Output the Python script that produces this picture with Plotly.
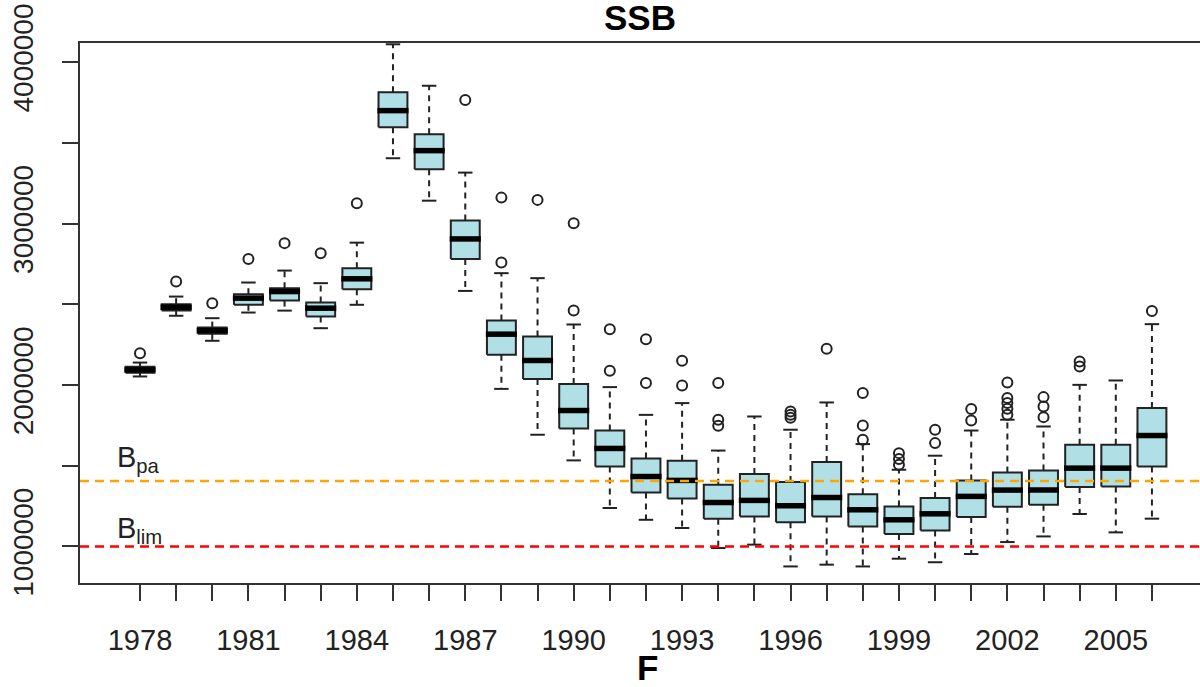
import plotly.graph_objects as go

# Spawning-stock biomass distributions per assessment year
years = list(range(1978, 2007))
label_years = [1978, 1981, 1984, 1987, 1990, 1993, 1996, 1999, 2002, 2005]

median = [2094000, 2482000, 2337000, 2538000, 2579000, 2476000, 2658000, 3700000,
          3452000, 2905000, 2315000, 2152000, 1842000, 1607000, 1433000, 1409000,
          1272000, 1285000, 1252000, 1303000, 1227000, 1165000, 1202000, 1310000,
          1349000, 1349000, 1485000, 1485000, 1687000]
q1 = [2076000, 2461000, 2317000, 2497000, 2523000, 2424000, 2594000, 3597000,
      3337000, 2780000, 2187000, 2038000, 1731000, 1495000, 1334000, 1297000,
      1172000, 1186000, 1149000, 1186000, 1124000, 1077000, 1099000, 1182000,
      1246000, 1258000, 1368000, 1372000, 1495000]
q3 = [2113000, 2501000, 2356000, 2563000, 2600000, 2511000, 2724000, 3814000,
      3554000, 3019000, 2399000, 2300000, 2006000, 1718000, 1545000, 1531000,
      1382000, 1448000, 1399000, 1523000, 1324000, 1248000, 1300000, 1409000,
      1458000, 1471000, 1630000, 1630000, 1857000]
whisker_low = [2053000, 2429000, 2274000, 2449000, 2461000, 2352000, 2497000, 3405000,
               3142000, 2583000, 1976000, 1692000, 1533000, 1238000, 1165000, 1114000,
               990000, 1011000, 876000, 887000, 876000, 924000, 902000, 953000,
               1027000, 1062000, 1201000, 1087000, 1172000]
whisker_high = [2139000, 2548000, 2414000, 2635000, 2709000, 2631000, 2882000, 4111000,
                3854000, 3316000, 2693000, 2662000, 2375000, 1987000, 1815000, 1888000,
                1594000, 1805000, 1723000, 1892000, 1634000, 1475000, 1562000, 1718000,
                1785000, 1743000, 2001000, 2028000, 2377000]

outlier_years = [1978, 1979, 1980, 1981, 1982, 1983, 1984, 1987,
                 1988, 1988, 1989, 1990, 1990, 1991, 1991, 1992, 1992,
                 1993, 1993, 1994, 1994, 1994, 1996, 1996, 1996, 1997,
                 1998, 1998, 1998, 1999, 1999, 1999, 2000, 2000,
                 2001, 2001, 2002, 2002, 2002, 2002, 2002,
                 2003, 2003, 2003, 2004, 2004, 2006]
outlier_values = [2197000, 2641000, 2507000, 2780000, 2879000, 2817000, 3126000, 3766000,
                  3161000, 2759000, 3147000, 3002000, 2461000, 2346000, 2088000, 2284000, 2012000,
                  2150000, 1997000, 2012000, 1785000, 1747000, 1836000, 1815000, 1797000, 2224000,
                  1950000, 1749000, 1661000, 1578000, 1541000, 1506000, 1723000, 1640000,
                  1851000, 1780000, 2016000, 1919000, 1888000, 1853000, 1816000,
                  1925000, 1867000, 1801000, 2146000, 2115000, 2459000]

# Reference points
B_PA = 1406000
B_LIM = 1000000

y_tick_values = [1000000, 1500000, 2000000, 2500000, 3000000, 3500000, 4000000]
y_tick_text = ["1000000", "", "2000000", "", "3000000", "", "4000000"]

BOX_HALF = 0.4
CAP_HALF = 0.2
MED_HALF = 0.43
INK = "#222222"
FONT = "Liberation Sans, Arial, Helvetica, sans-serif"

box_x, box_y = [], []
med_x, med_y = [], []
wh_x, wh_y = [], []
cap_x, cap_y = [], []
for yr, a, m, b, lo, hi in zip(years, q1, median, q3, whisker_low, whisker_high):
    box_x += [yr - BOX_HALF, yr + BOX_HALF, yr + BOX_HALF, yr - BOX_HALF, yr - BOX_HALF, None]
    box_y += [a, a, b, b, a, None]
    med_x += [yr - MED_HALF, yr + MED_HALF, None]
    med_y += [m, m, None]
    wh_x += [yr, yr, None, yr, yr, None]
    wh_y += [b, hi, None, a, lo, None]
    cap_x += [yr - CAP_HALF, yr + CAP_HALF, None, yr - CAP_HALF, yr + CAP_HALF, None]
    cap_y += [hi, hi, None, lo, lo, None]

fig = go.Figure()

fig.add_hline(y=B_PA, line=dict(color="#FFA500", width=2.5, dash="9px,6px"), layer="above")
fig.add_hline(y=B_LIM, line=dict(color="#FF0000", width=2.5, dash="9px,6px"), layer="above")

fig.add_trace(go.Scatter(x=wh_x, y=wh_y, mode="lines",
                         line=dict(color=INK, width=2, dash="6px,5px"),
                         hoverinfo="skip", showlegend=False))
fig.add_trace(go.Scatter(x=cap_x, y=cap_y, mode="lines",
                         line=dict(color=INK, width=2),
                         hoverinfo="skip", showlegend=False))
fig.add_trace(go.Scatter(x=box_x, y=box_y, mode="lines", fill="toself",
                         fillcolor="#B0E0E6", line=dict(color=INK, width=2),
                         hoverinfo="skip", showlegend=False))
fig.add_trace(go.Scatter(x=med_x, y=med_y, mode="lines",
                         line=dict(color="#000000", width=5.5),
                         hoverinfo="skip", showlegend=False))
fig.add_trace(go.Scatter(x=outlier_years, y=outlier_values, mode="markers",
                         marker=dict(symbol="circle-open", size=10,
                                     line=dict(color=INK, width=2), color=INK),
                         hoverinfo="skip", showlegend=False))

x_tick_text = [str(y) if y in label_years else "" for y in years]

fig.update_layout(
    width=1200, height=687,
    margin=dict(l=80, r=0, t=43, b=104),
    paper_bgcolor="white", plot_bgcolor="white",
    font=dict(family=FONT, color=INK),
    title=dict(text="<b>SSB</b>", x=0.5, xref="paper", y=1 - 18 / 687,
               yref="container", xanchor="center", yanchor="middle",
               font=dict(size=35, color="#000000", family=FONT)),
    xaxis=dict(range=[1976.34, 2007.33], tickmode="array", tickvals=years,
               ticktext=x_tick_text, ticks="outside", ticklen=16, tickwidth=2,
               tickcolor="#333333", showline=True, linewidth=2, linecolor="#333333",
               mirror=True, showgrid=False, zeroline=False,
               tickfont=dict(size=29, color="#222222"), ticklabelstandoff=14),
    yaxis=dict(range=[773400, 4118900], tickmode="array", tickvals=y_tick_values,
               ticktext=y_tick_text, ticks="outside", ticklen=16, tickwidth=2,
               tickcolor="#333333", showline=True, linewidth=2, linecolor="#333333",
               mirror=False, showgrid=False, zeroline=False, tickangle=-90,
               tickfont=dict(size=28, color="#222222"), ticklabelstandoff=18),
)

fig.add_annotation(text="<b>F</b>", xref="paper", yref="paper",
                   x=(647 - 80) / 1120, y=-(668 - 583.3) / 540.3,
                   xanchor="center", yanchor="middle", showarrow=False,
                   font=dict(size=35, color="#000000", family=FONT))
fig.add_annotation(text="B<sub>pa</sub>", xref="paper", yref="y",
                   x=(115 - 80) / 1120, y=B_PA, xanchor="left", yanchor="bottom",
                   yshift=2, showarrow=False, font=dict(size=29, color="#222222"))
fig.add_annotation(text="B<sub>lim</sub>", xref="paper", yref="y",
                   x=(115 - 80) / 1120, y=B_LIM, xanchor="left", yanchor="bottom",
                   yshift=-4, showarrow=False, font=dict(size=29, color="#222222"))

fig.write_html("out.html")
